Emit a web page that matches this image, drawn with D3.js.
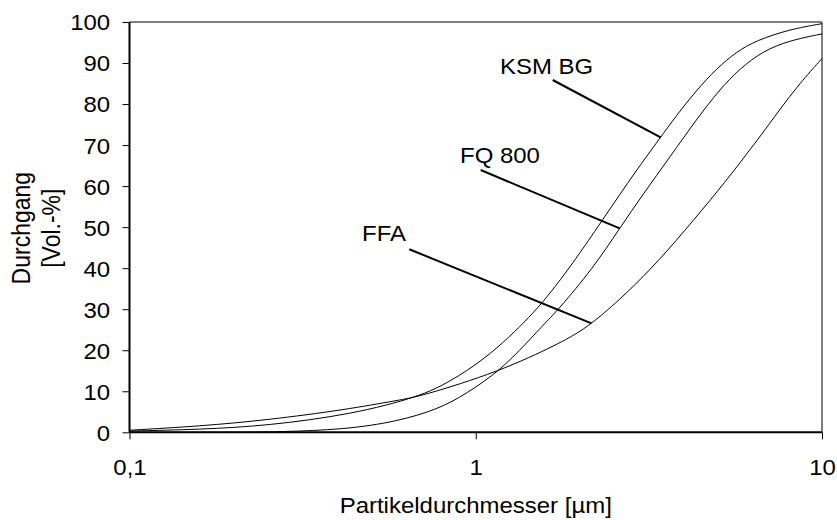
<!DOCTYPE html>
<html>
<head>
<meta charset="utf-8">
<script src="https://cdn.jsdelivr.net/npm/d3@7"></script>
<style>
  html, body { margin: 0; padding: 0; background: #fff; }
  svg { display: block; font-family: "Liberation Sans", Arial, Helvetica, sans-serif; }
</style>
</head>
<body>
<svg id="chart" width="837" height="520"></svg>
<script>
// Particle size distributions: cumulative passing (Vol.-%) vs. particle diameter (µm)
const ksmDiameter = [0.1, 0.16, 0.25, 0.44, 0.689, 0.841, 1.05, 1.253, 1.432, 1.564, 1.748, 1.996, 2.33, 2.91, 3.40, 3.795, 4.335, 4.951, 5.655, 6.458, 8.058, 10];
const ksmPassing  = [0.3, 0.7, 1.6, 4.4, 8.7, 12.3, 17.6, 23.3, 28.2, 31.8, 36.9, 43.6, 51.9, 63.9, 71.6, 77.2, 83.3, 88.6, 92.7, 95.5, 98.2, 99.6];

const fqDiameter = [0.1, 0.2, 0.27, 0.42, 0.59, 0.778, 0.94, 1.173, 1.401, 1.60, 1.728, 2.181, 2.604, 3.04, 3.63, 4.36, 5.06, 5.78, 6.746, 8.058, 10];
const fqPassing  = [0.0, 0.0, 0.1, 0.7, 2.6, 5.6, 9.4, 15.0, 21.7, 27.0, 29.8, 40.0, 49.7, 58.0, 67.0, 76.5, 83.5, 88.6, 92.9, 95.5, 97.1];

const ffaDiameter = [0.1, 0.16, 0.25, 0.42, 0.6035, 0.689, 1.173, 1.748, 1.996, 2.231, 2.722, 3.396, 4.238, 5.291, 6.18, 6.6, 7.54, 8.612, 10];
const ffaPassing  = [0.5, 1.5, 3.0, 5.5, 7.9, 8.7, 14.8, 21.7, 24.5, 27.4, 33.8, 42.0, 51.5, 61.3, 68.8, 71.9, 78.6, 85.0, 91.1];

const seriesNames = ["KSM BG", "FQ 800", "FFA"];
const xTickValues = [0.1, 1, 10];
const xTickLabels = ["0,1", "1", "10"];
const yTickValues = [0, 10, 20, 30, 40, 50, 60, 70, 80, 90, 100];
const xTitle = "Partikeldurchmesser [µm]";
const yTitleLines = ["Durchgang", "[Vol.-%]"];

// Curve labels: text position, start of the leader line and the diameter where it meets its curve
const labelAnchors = [
  { name: "KSM BG", tx: 500, ty: 74.3, lx: 552.7, ly: 80, d: 3.42 },
  { name: "FQ 800", tx: 460, ty: 163.3, lx: 480.7, ly: 170, d: 2.604 },
  { name: "FFA",    tx: 362, ty: 240.5, lx: 409.3, ly: 249.3, d: 2.16 }
];

const svg = d3.select("#chart");
const plotLeft = 129.5, plotRight = 822, plotTop = 22, plotBottom = 432.3;
const FS = 22;          // text size
const SX = 1.09;        // slightly wide lettering

const x = d3.scaleLog().domain([0.1, 10]).range([plotLeft, plotRight]);
const y = d3.scaleLinear().domain([0, 100]).range([plotBottom, plotTop]);

const series = [
  { name: seriesNames[0], d: ksmDiameter, v: ksmPassing },
  { name: seriesNames[1], d: fqDiameter, v: fqPassing },
  { name: seriesNames[2], d: ffaDiameter, v: ffaPassing }
];

// Frame: grey top/right edges
svg.append("line").attr("x1", plotLeft).attr("x2", plotRight).attr("y1", plotTop).attr("y2", plotTop)
  .attr("stroke", "#808080").attr("stroke-width", 2);
svg.append("line").attr("x1", plotRight).attr("x2", plotRight).attr("y1", plotTop).attr("y2", plotBottom)
  .attr("stroke", "#808080").attr("stroke-width", 2);

// Curves
const line = d3.line()
  .x((p) => x(p[0]))
  .y((p) => y(p[1]))
  .curve(d3.curveBasis);

series.forEach((s) => {
  const pts = s.d.map((dv, i) => [dv, s.v[i]]);
  svg.append("path")
    .attr("d", line(pts))
    .attr("fill", "none")
    .attr("stroke", "#000")
    .attr("stroke-width", 1);
});

// Y axis
const yAxis = d3.axisLeft(y).tickValues(yTickValues).tickSize(7).tickPadding(11).tickFormat(d3.format("d"));
const gy = svg.append("g").attr("transform", `translate(${plotLeft},0)`).call(yAxis);
gy.select(".domain").attr("stroke", "#000").attr("stroke-width", 2).attr("d", `M0,${plotBottom}V${plotTop}`);
gy.selectAll(".tick line").attr("stroke", "#000").attr("stroke-width", 1);
gy.selectAll(".tick text").attr("font-size", FS).attr("fill", "#000")
  .attr("font-family", "Liberation Sans, Arial, sans-serif")
  .attr("x", -19.3 / SX).attr("dy", "0.36em")
  .attr("transform", `scale(${SX},1)`);

// X axis
const xAxis = d3.axisBottom(x).tickValues(xTickValues).tickSize(7).tickPadding(20.5)
  .tickFormat((d, i) => xTickLabels[i]);
const gx = svg.append("g").attr("transform", `translate(0,${plotBottom})`).call(xAxis);
gx.select(".domain").attr("stroke", "#000").attr("stroke-width", 2).attr("d", `M${plotLeft},0H${plotRight}`);
gx.selectAll(".tick line").attr("stroke", "#000").attr("stroke-width", 1);
gx.selectAll(".tick text").attr("font-size", FS).attr("fill", "#000")
  .attr("font-family", "Liberation Sans, Arial, sans-serif").attr("dy", "0.71em")
  .attr("transform", `scale(${SX},1)`);

// Axis titles
svg.append("text")
  .attr("transform", `translate(${(plotLeft + plotRight) / 2},513) scale(${SX},1)`)
  .attr("text-anchor", "middle").attr("font-size", FS).attr("fill", "#000")
  .text(xTitle);

const yMid = (plotTop + plotBottom) / 2 + 1;
[30, 59.5].forEach((bx, i) => {
  svg.append("text")
    .attr("transform", `translate(${bx},${yMid}) scale(${SX},1) rotate(-90)`)
    .attr("text-anchor", "middle").attr("font-size", 23).attr("fill", "#000")
    .text(yTitleLines[i]);
});

// Curve labels with leader lines ending on their curve
labelAnchors.forEach((a) => {
  const s = series.find((q) => q.name === a.name);
  const passingAt = d3.scaleLinear().domain(s.d.map(Math.log10)).range(s.v);
  svg.append("line")
    .attr("x1", a.lx).attr("y1", a.ly)
    .attr("x2", x(a.d)).attr("y2", y(passingAt(Math.log10(a.d))))
    .attr("stroke", "#000").attr("stroke-width", 2);
  svg.append("text")
    .attr("transform", `translate(${a.tx},${a.ty}) scale(${SX},1)`)
    .attr("font-size", FS).attr("fill", "#000")
    .text(a.name);
});
</script>
</body>
</html>
